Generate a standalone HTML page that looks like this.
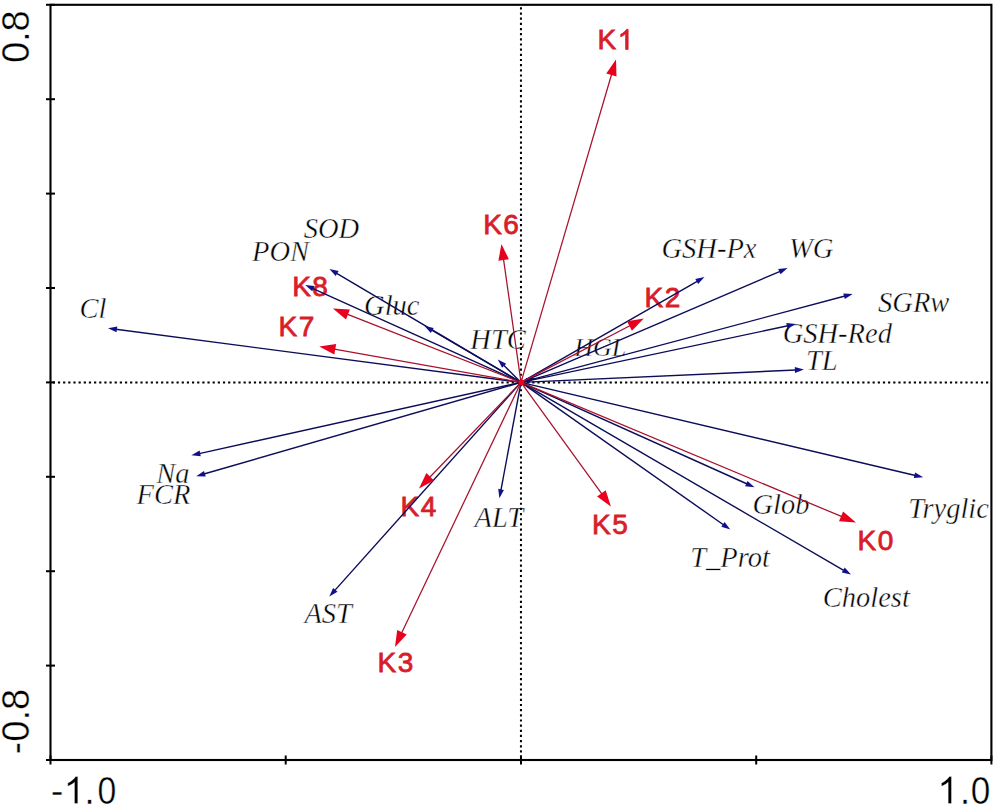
<!DOCTYPE html>
<html><head><meta charset="utf-8"><style>
html,body{margin:0;padding:0;background:#fff;width:996px;height:808px;overflow:hidden}
svg{display:block}
</style></head><body>
<svg width="996" height="808" viewBox="0 0 996 808">
<rect width="996" height="808" fill="#fff"/>
<text x="303.7" y="238.3" font-family="Liberation Serif, serif" font-style="italic" font-size="28.5" fill="#000" stroke="#fff" stroke-width="0.42">SOD</text>
<text x="252.1" y="260.9" font-family="Liberation Serif, serif" font-style="italic" font-size="28.5" fill="#000" stroke="#fff" stroke-width="0.42">PON</text>
<text x="79.4" y="318.4" font-family="Liberation Serif, serif" font-style="italic" font-size="28.5" fill="#000" stroke="#fff" stroke-width="0.42">Cl</text>
<text x="364.1" y="314.8" font-family="Liberation Serif, serif" font-style="italic" font-size="28.5" fill="#000" stroke="#fff" stroke-width="0.42">Gluc</text>
<text x="470.3" y="348.8" font-family="Liberation Serif, serif" font-style="italic" font-size="28.5" fill="#000" stroke="#fff" stroke-width="0.42">HTC</text>
<text x="574.2" y="355.8" font-family="Liberation Serif, serif" font-style="italic" font-size="26" fill="#000" stroke="#fff" stroke-width="0.42">HGL</text>
<text x="661.5" y="257.9" font-family="Liberation Serif, serif" font-style="italic" font-size="28.5" fill="#000" stroke="#fff" stroke-width="0.42">GSH-Px</text>
<text x="789.0" y="257.9" font-family="Liberation Serif, serif" font-style="italic" font-size="28.5" fill="#000" stroke="#fff" stroke-width="0.42">WG</text>
<text x="878.1" y="311.8" font-family="Liberation Serif, serif" font-style="italic" font-size="28.5" fill="#000" stroke="#fff" stroke-width="0.42">SGRw</text>
<text x="782.7" y="342.8" font-family="Liberation Serif, serif" font-style="italic" font-size="28.5" fill="#000" stroke="#fff" stroke-width="0.42">GSH-Red</text>
<text x="805.9" y="370.1" font-family="Liberation Serif, serif" font-style="italic" font-size="28.5" fill="#000" stroke="#fff" stroke-width="0.42">TL</text>
<text x="156.2" y="483.0" font-family="Liberation Serif, serif" font-style="italic" font-size="28.5" fill="#000" stroke="#fff" stroke-width="0.42">Na</text>
<text x="136.6" y="504.0" font-family="Liberation Serif, serif" font-style="italic" font-size="28.5" fill="#000" stroke="#fff" stroke-width="0.42">FCR</text>
<text x="474.5" y="526.9" font-family="Liberation Serif, serif" font-style="italic" font-size="28.5" fill="#000" stroke="#fff" stroke-width="0.42">ALT</text>
<text x="304.4" y="623.2" font-family="Liberation Serif, serif" font-style="italic" font-size="28.5" fill="#000" stroke="#fff" stroke-width="0.42">AST</text>
<text x="752.5" y="514.3" font-family="Liberation Serif, serif" font-style="italic" font-size="28.5" fill="#000" stroke="#fff" stroke-width="0.42">Glob</text>
<text x="908.2" y="517.9" font-family="Liberation Serif, serif" font-style="italic" font-size="28.5" fill="#000" stroke="#fff" stroke-width="0.42">Tryglic</text>
<text x="690.2" y="566.7" font-family="Liberation Serif, serif" font-style="italic" font-size="28.5" fill="#000" stroke="#fff" stroke-width="0.42">T_Prot</text>
<text x="822.8" y="607.1" font-family="Liberation Serif, serif" font-style="italic" font-size="28.5" fill="#000" stroke="#fff" stroke-width="0.42">Cholest</text>
<text x="597.50" y="49.40" font-family="Liberation Sans, sans-serif" font-size="28" fill="#d81e2a" stroke="#d81e2a" stroke-width="0.8" letter-spacing="1.5">K</text>
<path transform="translate(617.68,49.40) scale(0.013672,-0.013672)" d="M763 0L583 0L583 1147Q518 1085 415 1024.5Q312 964 221 930L221 1104Q366 1172 477 1272Q588 1372 647 1466L763 1466Z" fill="#d81e2a" stroke="#d81e2a" stroke-width="58.5"/>
<text x="483.2" y="233.9" font-family="Liberation Sans, sans-serif" font-size="28" fill="#d81e2a" stroke="#d81e2a" stroke-width="0.8" letter-spacing="1.5">K6</text>
<text x="292.2" y="296.4" font-family="Liberation Sans, sans-serif" font-size="28" fill="#d81e2a" stroke="#d81e2a" stroke-width="0.8" letter-spacing="1.5">K8</text>
<text x="278.6" y="335.9" font-family="Liberation Sans, sans-serif" font-size="28" fill="#d81e2a" stroke="#d81e2a" stroke-width="0.8" letter-spacing="1.5">K7</text>
<text x="644.5" y="306.5" font-family="Liberation Sans, sans-serif" font-size="28" fill="#d81e2a" stroke="#d81e2a" stroke-width="0.8" letter-spacing="1.5">K2</text>
<text x="400.5" y="515.9" font-family="Liberation Sans, sans-serif" font-size="28" fill="#d81e2a" stroke="#d81e2a" stroke-width="0.8" letter-spacing="1.5">K4</text>
<text x="592.0" y="534.1" font-family="Liberation Sans, sans-serif" font-size="28" fill="#d81e2a" stroke="#d81e2a" stroke-width="0.8" letter-spacing="1.5">K5</text>
<text x="857.5" y="549.5" font-family="Liberation Sans, sans-serif" font-size="28" fill="#d81e2a" stroke="#d81e2a" stroke-width="0.8" letter-spacing="1.5">K0</text>
<text x="377.6" y="672.0" font-family="Liberation Sans, sans-serif" font-size="28" fill="#d81e2a" stroke="#d81e2a" stroke-width="0.8" letter-spacing="1.5">K3</text>
<text x="50.80" y="803.6" font-family="Liberation Sans, sans-serif" font-size="38" fill="#000" stroke="#fff" stroke-width="0.4">-</text>
<path transform="translate(63.64,803.60) scale(0.018555,-0.018555)" d="M763 0L583 0L583 1147Q518 1085 415 1024.5Q312 964 221 930L221 1104Q366 1172 477 1272Q588 1372 647 1466L763 1466Z" fill="#000" stroke="#fff" stroke-width="21.6"/>
<text x="84.20" y="803.6" font-family="Liberation Sans, sans-serif" font-size="38" fill="#000" stroke="#fff" stroke-width="0.4">.</text>
<text x="0" y="0" font-family="Liberation Sans, sans-serif" font-size="38" fill="#000" stroke="#fff" stroke-width="0.4" transform="translate(97.61,803.6) scale(0.889,1)">0</text>
<path transform="translate(937.34,803.60) scale(0.018555,-0.018555)" d="M763 0L583 0L583 1147Q518 1085 415 1024.5Q312 964 221 930L221 1104Q366 1172 477 1272Q588 1372 647 1466L763 1466Z" fill="#000" stroke="#fff" stroke-width="21.6"/>
<text x="959.80" y="803.6" font-family="Liberation Sans, sans-serif" font-size="38" fill="#000" stroke="#fff" stroke-width="0.4">.</text>
<text x="0" y="0" font-family="Liberation Sans, sans-serif" font-size="38" fill="#000" stroke="#fff" stroke-width="0.4" transform="translate(970.77,803.6) scale(0.926,1)">0</text>
<text x="-26.0" y="13.5" font-family="Liberation Sans, sans-serif" font-size="38" fill="#000" stroke="#fff" stroke-width="0.4" transform="translate(15.7,37.1) rotate(-90)">0.8</text>
<text x="-33.0" y="13.5" font-family="Liberation Sans, sans-serif" font-size="38" fill="#000" stroke="#fff" stroke-width="0.4" transform="translate(15.7,721.4) rotate(-90)">-0.8</text>
<line x1="52.78" y1="382.4" x2="990.4" y2="382.4" stroke="#000" stroke-width="2" stroke-dasharray="2.2 2.956"/>
<line x1="520.95" y1="7.3" x2="520.95" y2="759.0" stroke="#000" stroke-width="2" stroke-dasharray="2.2 2.96"/>
<line x1="521.0" y1="382.4" x2="115.9" y2="329.3" stroke="#0c0c58" stroke-width="1.4"/><polygon points="108.0,328.3 117.3,326.6 116.5,332.3" fill="#10108c"/>
<line x1="521.0" y1="382.4" x2="336.3" y2="273.1" stroke="#0c0c58" stroke-width="1.4"/><polygon points="329.4,269.0 338.6,271.1 335.7,276.1" fill="#10108c"/>
<line x1="521.0" y1="382.4" x2="312.5" y2="288.3" stroke="#0c0c58" stroke-width="1.4"/><polygon points="305.2,285.0 314.6,286.1 312.2,291.3" fill="#10108c"/>
<line x1="521.0" y1="382.4" x2="431.4" y2="330.0" stroke="#0c0c58" stroke-width="1.4"/><polygon points="424.5,326.0 433.7,328.0 430.8,333.0" fill="#10108c"/>
<line x1="521.0" y1="382.4" x2="503.5" y2="365.0" stroke="#0c0c58" stroke-width="1.4"/><polygon points="497.8,359.4 506.2,363.7 502.1,367.8" fill="#10108c"/>
<line x1="521.0" y1="382.4" x2="527.6" y2="380.4" stroke="#0c0c58" stroke-width="1.4"/><polygon points="535.3,378.1 527.5,383.5 525.8,377.9" fill="#10108c"/>
<line x1="521.0" y1="382.4" x2="697.6" y2="281.1" stroke="#0c0c58" stroke-width="1.4"/><polygon points="704.5,277.1 698.1,284.1 695.3,279.1" fill="#10108c"/>
<line x1="521.0" y1="382.4" x2="780.2" y2="271.3" stroke="#0c0c58" stroke-width="1.4"/><polygon points="787.6,268.1 780.5,274.3 778.2,269.0" fill="#10108c"/>
<line x1="521.0" y1="382.4" x2="845.0" y2="296.0" stroke="#0c0c58" stroke-width="1.4"/><polygon points="852.7,293.9 844.8,299.0 843.3,293.4" fill="#10108c"/>
<line x1="521.0" y1="382.4" x2="787.9" y2="325.8" stroke="#0c0c58" stroke-width="1.4"/><polygon points="795.7,324.1 787.5,328.8 786.3,323.1" fill="#10108c"/>
<line x1="521.0" y1="382.4" x2="795.9" y2="370.0" stroke="#0c0c58" stroke-width="1.4"/><polygon points="803.9,369.6 795.0,372.9 794.8,367.1" fill="#10108c"/>
<line x1="521.0" y1="382.4" x2="915.4" y2="475.5" stroke="#0c0c58" stroke-width="1.4"/><polygon points="923.2,477.3 913.8,478.1 915.1,472.4" fill="#10108c"/>
<line x1="521.0" y1="382.4" x2="747.2" y2="484.0" stroke="#0c0c58" stroke-width="1.4"/><polygon points="754.5,487.3 745.1,486.3 747.5,481.0" fill="#10108c"/>
<line x1="521.0" y1="382.4" x2="723.8" y2="525.0" stroke="#0c0c58" stroke-width="1.4"/><polygon points="730.3,529.6 721.3,526.8 724.6,522.1" fill="#10108c"/>
<line x1="521.0" y1="382.4" x2="844.1" y2="570.6" stroke="#0c0c58" stroke-width="1.4"/><polygon points="851.0,574.6 841.8,572.6 844.7,567.6" fill="#10108c"/>
<line x1="521.0" y1="382.4" x2="500.9" y2="490.3" stroke="#0c0c58" stroke-width="1.4"/><polygon points="499.4,498.2 498.2,488.8 503.9,489.9" fill="#10108c"/>
<line x1="521.0" y1="382.4" x2="334.6" y2="590.6" stroke="#0c0c58" stroke-width="1.4"/><polygon points="329.3,596.6 333.1,588.0 337.5,591.8" fill="#10108c"/>
<line x1="521.0" y1="382.4" x2="199.2" y2="453.6" stroke="#0c0c58" stroke-width="1.4"/><polygon points="191.4,455.3 199.6,450.5 200.8,456.2" fill="#10108c"/>
<line x1="521.0" y1="382.4" x2="203.9" y2="474.0" stroke="#0c0c58" stroke-width="1.4"/><polygon points="196.2,476.2 204.0,470.9 205.7,476.5" fill="#10108c"/>
<line x1="521.0" y1="382.4" x2="842.0" y2="516.7" stroke="#a8102c" stroke-width="1.25"/><polygon points="856.0,522.6 839.0,521.2 843.1,511.5" fill="#e8001e"/>
<line x1="521.0" y1="382.4" x2="611.7" y2="74.0" stroke="#a8102c" stroke-width="1.25"/><polygon points="616.0,59.4 616.5,76.4 606.3,73.4" fill="#e8001e"/>
<line x1="521.0" y1="382.4" x2="630.3" y2="325.5" stroke="#a8102c" stroke-width="1.25"/><polygon points="643.8,318.5 631.9,330.7 627.0,321.3" fill="#e8001e"/>
<line x1="521.0" y1="382.4" x2="401.5" y2="633.2" stroke="#a8102c" stroke-width="1.25"/><polygon points="395.0,646.9 397.2,630.0 406.7,634.6" fill="#e8001e"/>
<line x1="521.0" y1="382.4" x2="429.5" y2="477.5" stroke="#a8102c" stroke-width="1.25"/><polygon points="419.0,488.5 426.4,473.1 434.0,480.5" fill="#e8001e"/>
<line x1="521.0" y1="382.4" x2="602.0" y2="494.2" stroke="#a8102c" stroke-width="1.25"/><polygon points="610.9,506.5 597.1,496.5 605.7,490.3" fill="#e8001e"/>
<line x1="521.0" y1="382.4" x2="503.5" y2="259.1" stroke="#a8102c" stroke-width="1.25"/><polygon points="501.4,244.0 508.9,259.3 498.4,260.8" fill="#e8001e"/>
<line x1="521.0" y1="382.4" x2="334.3" y2="349.1" stroke="#a8102c" stroke-width="1.25"/><polygon points="319.3,346.4 336.2,344.0 334.3,354.5" fill="#e8001e"/>
<line x1="521.0" y1="382.4" x2="347.0" y2="314.2" stroke="#a8102c" stroke-width="1.25"/><polygon points="332.9,308.6 349.9,309.6 346.0,319.5" fill="#e8001e"/>
<circle cx="521.4" cy="382.4" r="2.8" fill="#e8001e"/>
<rect x="50.5" y="4.8" width="940.9" height="755.2" fill="none" stroke="#000" stroke-width="2.1"/>
<line x1="50.5" y1="755.5" x2="50.5" y2="764.5" stroke="#000" stroke-width="2"/>
<line x1="285.7" y1="755.5" x2="285.7" y2="764.5" stroke="#000" stroke-width="2"/>
<line x1="521.0" y1="755.5" x2="521.0" y2="764.5" stroke="#000" stroke-width="2"/>
<line x1="756.2" y1="755.5" x2="756.2" y2="764.5" stroke="#000" stroke-width="2"/>
<line x1="991.4" y1="755.5" x2="991.4" y2="764.5" stroke="#000" stroke-width="2"/>
<line x1="46.0" y1="760.0" x2="55.0" y2="760.0" stroke="#000" stroke-width="2"/>
<line x1="46.0" y1="665.6" x2="55.0" y2="665.6" stroke="#000" stroke-width="2"/>
<line x1="46.0" y1="571.2" x2="55.0" y2="571.2" stroke="#000" stroke-width="2"/>
<line x1="46.0" y1="476.8" x2="55.0" y2="476.8" stroke="#000" stroke-width="2"/>
<line x1="46.0" y1="382.4" x2="55.0" y2="382.4" stroke="#000" stroke-width="2"/>
<line x1="46.0" y1="288.0" x2="55.0" y2="288.0" stroke="#000" stroke-width="2"/>
<line x1="46.0" y1="193.6" x2="55.0" y2="193.6" stroke="#000" stroke-width="2"/>
<line x1="46.0" y1="99.2" x2="55.0" y2="99.2" stroke="#000" stroke-width="2"/>
<line x1="46.0" y1="4.8" x2="55.0" y2="4.8" stroke="#000" stroke-width="2"/>
</svg>
</body></html>
